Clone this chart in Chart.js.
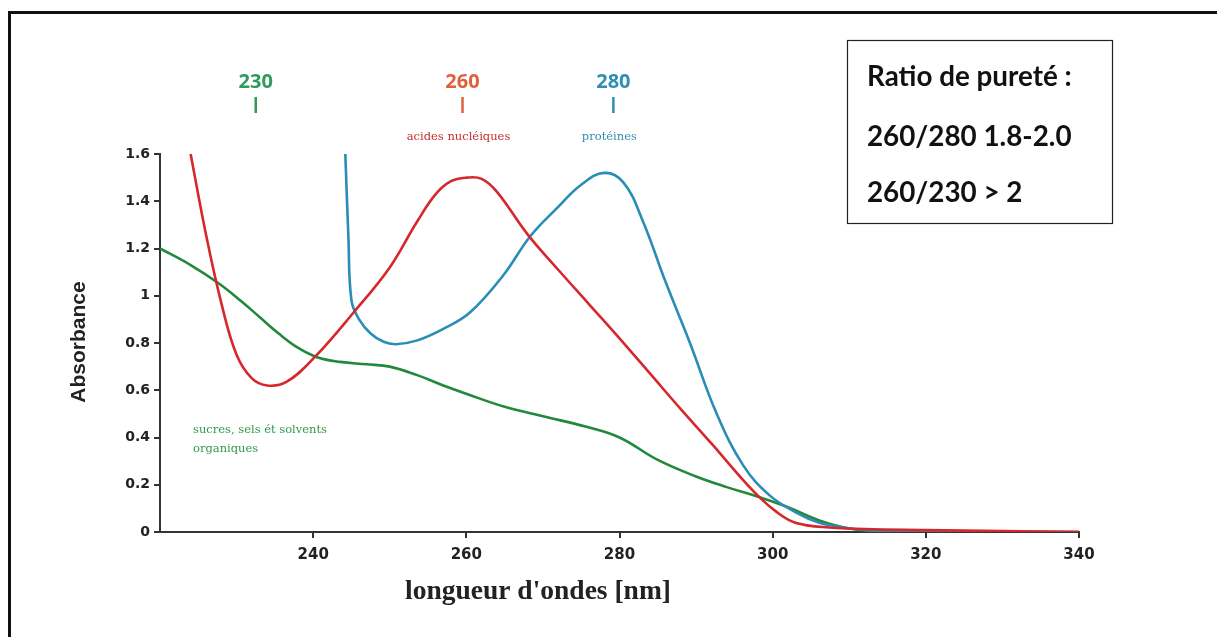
<!DOCTYPE html>
<html>
<head>
<meta charset="utf-8">
<script src="https://cdn.jsdelivr.net/npm/chart.js@4"></script>
<style>
  html, body { margin: 0; padding: 0; background: #fff; }
  canvas { display: block; }
</style>
</head>
<body>
<canvas id="spectre" width="1217" height="637"></canvas>
<script>
// longueurs d'onde (nm) et absorbances
const nucleicX = [224, 226, 228, 230, 232, 234, 236.5, 240.2, 245.3, 250, 253.5, 256, 258, 260, 262, 264, 268, 272, 276, 280, 284, 288, 292, 296, 298.5, 300.5, 302.5, 304.5, 307, 312, 320, 330, 340];
const nucleicY = [1.6, 1.26, 0.97, 0.75, 0.65, 0.62, 0.635, 0.74, 0.93, 1.12, 1.31, 1.43, 1.485, 1.5, 1.495, 1.44, 1.26, 1.11, 0.965, 0.82, 0.67, 0.52, 0.375, 0.225, 0.14, 0.085, 0.045, 0.028, 0.02, 0.012, 0.008, 0.004, 0];

const proteinX = [244.2, 244.6, 245, 246, 247.5, 249.2, 250.8, 253.5, 257, 260.5, 264.9, 268.3, 271.8, 275, 278, 280.5, 283, 286, 289.2, 292.7, 296.2, 299.6, 303.2, 306, 309, 313, 320, 340];
const proteinY = [1.6, 1.25, 0.98, 0.9, 0.84, 0.805, 0.795, 0.81, 0.86, 0.93, 1.09, 1.25, 1.37, 1.47, 1.52, 1.48, 1.32, 1.06, 0.80, 0.50, 0.28, 0.155, 0.08, 0.04, 0.02, 0.006, 0.002, 0];

const sugarX = [220, 224, 227.6, 230.5, 233, 235.5, 238, 240.5, 243.5, 247, 250, 253.5, 257, 260, 265, 270, 275.7, 280, 285, 290, 294, 298, 302, 306, 310, 314, 320, 340];
const sugarY = [1.2, 1.13, 1.054, 0.98, 0.91, 0.84, 0.78, 0.74, 0.72, 0.71, 0.70, 0.665, 0.62, 0.585, 0.53, 0.49, 0.445, 0.40, 0.305, 0.235, 0.19, 0.15, 0.105, 0.05, 0.015, 0.004, 0.001, 0];

const xTicks = [240, 260, 280, 300, 320, 340];
const yTicks = [0, 0.2, 0.4, 0.6, 0.8, 1, 1.2, 1.4, 1.6];
const yTickLabels = ["0", "0.2", "0.4", "0.6", "0.8", "1", "1.2", "1.4", "1.6"];

const peaks = [
  { nm: 232.5, label: "230", color: "#2f9a5c", name: [], nameColor: "#2f9a5c" },
  { nm: 259.5, label: "260", color: "#e0603c", name: ["acides nucléiques"], nameColor: "#c62d2d" },
  { nm: 279.2, label: "280", color: "#2f8fb3", name: ["protéines"], nameColor: "#3b8db0" }
];
const ratioLines = ["Ratio de pureté :", "260/280 1.8-2.0", "260/230 > 2"];

function pts(xs, ys) {
  return xs.map((x, i) => ({ x: x, y: ys[i] }));
}

function fitFont(ctx, text, width, weight, family) {
  let size = 20;
  ctx.font = weight + " " + size + "px " + family;
  size = size * width / ctx.measureText(text).width;
  return weight + " " + size.toFixed(1) + "px " + family;
}

const decorations = {
  id: "decorations",
  afterDraw(chart) {
    const ctx = chart.ctx;
    const xs = chart.scales.x;
    ctx.save();

    // cadre extérieur (seulement haut et gauche visibles)
    ctx.strokeStyle = "#111";
    ctx.lineWidth = 3;
    ctx.beginPath();
    ctx.moveTo(9.5, 700);
    ctx.lineTo(9.5, 12.5);
    ctx.lineTo(1300, 12.5);
    ctx.stroke();

    // encadré
    ctx.lineWidth = 1.2;
    ctx.strokeStyle = "#222";
    ctx.strokeRect(847.5, 40.5, 265, 183);
    ctx.fillStyle = "#111";
    ctx.textAlign = "left";
    ctx.textBaseline = "middle";
    ctx.font = fitFont(ctx, ratioLines[0], 205, "bold", "Lato");
    ctx.fillText(ratioLines[0], 867, 77);
    ctx.fillText(ratioLines[1], 867, 137);
    ctx.fillText(ratioLines[2], 867, 193);

    // pics
    peaks.forEach(p => {
      const px = xs.getPixelForValue(p.nm);
      ctx.fillStyle = p.color;
      ctx.strokeStyle = p.color;
      ctx.textAlign = "center";
      ctx.font = "bold 20px 'Open Sans'";
      ctx.fillText(p.label, px, 82);
      ctx.lineWidth = 2.5;
      ctx.beginPath();
      ctx.moveTo(px, 97);
      ctx.lineTo(px, 113);
      ctx.stroke();
      ctx.fillStyle = p.nameColor;
      ctx.font = "11.5px 'DejaVu Serif'";
      p.name.forEach((n, i) => ctx.fillText(n, px - 4, 137 + i * 16));
    });

    ctx.fillStyle = "#2f9a4a";
    ctx.textAlign = "left";
    ctx.font = "11.5px 'DejaVu Serif'";
    ctx.fillText("sucres, sels ét solvents", 193, 430);
    ctx.fillText("organiques", 193, 449);

    // titres des axes
    ctx.fillStyle = "#222";
    ctx.textAlign = "center";
    ctx.font = fitFont(ctx, "longueur d'ondes [nm]", 266, "bold", "'Liberation Serif'");
    ctx.fillText("longueur d'ondes [nm]", 538, 592);

    ctx.translate(79, 342);
    ctx.rotate(-Math.PI / 2);
    ctx.font = "bold 21px 'Liberation Sans'";
    ctx.fillText("Absorbance", 0, 0);
    ctx.restore();
  }
};

const lineStyle = {
  borderWidth: 2.6,
  pointRadius: 0,
  fill: false,
  tension: 0.4
};

new Chart(document.getElementById("spectre").getContext("2d"), {
  type: "line",
  data: {
    datasets: [
      Object.assign({ label: "acides nucléiques", data: pts(nucleicX, nucleicY), borderColor: "#d6282c" }, lineStyle),
      Object.assign({ label: "protéines", data: pts(proteinX, proteinY), borderColor: "#2a8db5" }, lineStyle),
      Object.assign({ label: "sucres, sels et solvents organiques", data: pts(sugarX, sugarY), borderColor: "#23893a" }, lineStyle)
    ]
  },
  options: {
    responsive: false,
    animation: false,
    devicePixelRatio: 1,
    layout: { padding: { left: 0, top: 154, right: 138, bottom: 0 } },
    plugins: { legend: { display: false }, tooltip: { enabled: false } },
    scales: {
      x: {
        type: "linear",
        min: 220,
        max: 340,
        afterBuildTicks: s => { s.ticks = xTicks.map(v => ({ value: v })); },
        afterFit: s => { s.height = 105; },
        ticks: { color: "#222", font: { family: "DejaVu Sans", weight: "bold", size: 15 }, padding: 8 },
        grid: { drawOnChartArea: false, drawTicks: true, tickLength: 6, color: "#333", lineWidth: 2 },
        border: { color: "#333", width: 2 }
      },
      y: {
        min: 0,
        max: 1.6,
        afterBuildTicks: s => { s.ticks = yTicks.map(v => ({ value: v })); },
        afterFit: s => { s.width = 160; },
        ticks: {
          color: "#222",
          font: { family: "DejaVu Sans", weight: "bold", size: 14 },
          padding: 4,
          callback: (v, i) => yTickLabels[i]
        },
        grid: { drawOnChartArea: false, drawTicks: true, tickLength: 6, color: "#333", lineWidth: 2 },
        border: { color: "#333", width: 2 }
      }
    }
  },
  plugins: [decorations]
});
</script>
</body>
</html>
